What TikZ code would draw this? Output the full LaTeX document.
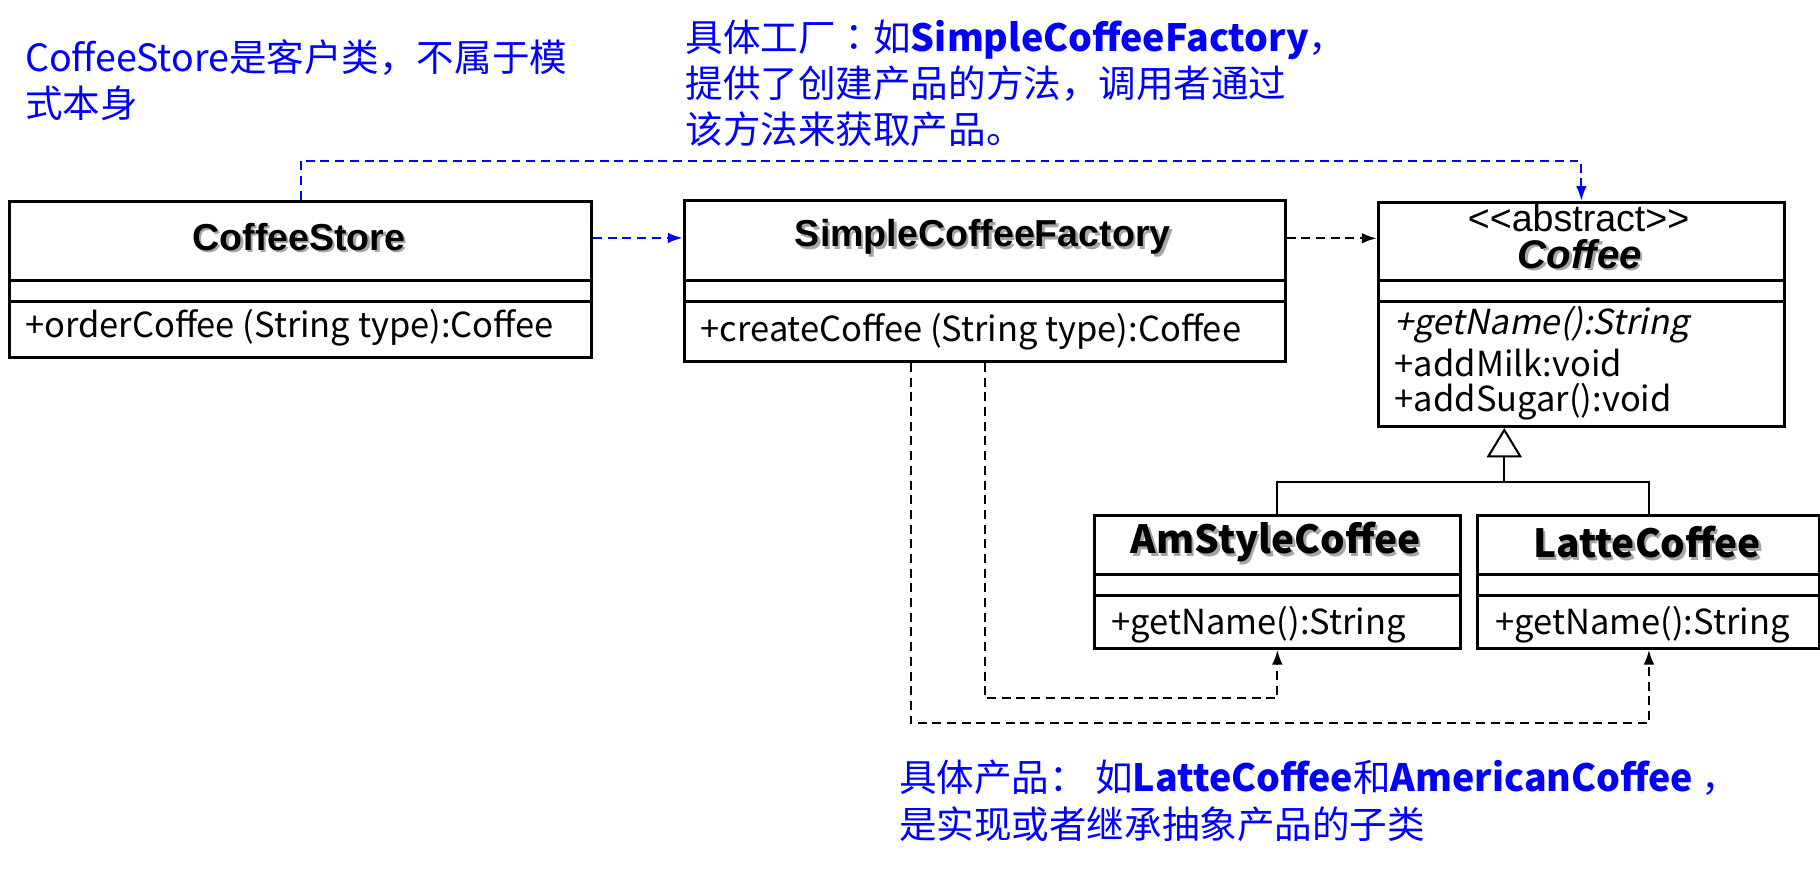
\documentclass[tikz,border=0pt]{standalone}
\usepackage{fontspec}
\setmainfont{Noto Sans CJK SC}
\newfontfamily\arial{Liberation Sans}
\newfontfamily\penche{Noto Sans CJK SC}[FakeSlant=0.2]
\newfontfamily\tcfont{Noto Sans CJK TC}
\usetikzlibrary{arrows.meta}
\newcommand\ombre[1]{\makebox[0pt][l]{\raisebox{-0.6pt}{\hspace{0.6pt}\textcolor{black!35}{#1}}}#1}

\begin{document}
\begin{tikzpicture}[x=0.01cm,y=-0.01cm]
\tikzstyle{lien}=[dash pattern=on 2.2pt off 1.4pt,line width=0.5pt,-{Latex[length=3.6pt,width=2.6pt]}]
\tikzstyle{lienbleu}=[lien,blue]
\tikzset{classe/.style={draw,line width=0.75pt,anchor=north west,inner sep=0pt},
titre/.style={inner sep=0pt,font=\arial\bfseries\fontsize{9.2}{11}\selectfont},
methode/.style={anchor=west,inner sep=0pt,font=\fontsize{8.45}{10}\selectfont},
note/.style={anchor=west,inner sep=0pt,align=left,blue,font=\fontsize{9.2}{11.3}\selectfont}}
\useasboundingbox (0,0) rectangle (1568,748.6);

% les classes
\node[classe,minimum width=5.01cm,minimum height=1.345cm] (CS) at (7,172) {};
\node[classe,minimum width=5.175cm,minimum height=1.385cm] (FA) at (588,171.5) {};
\node[classe,minimum width=3.5cm,minimum height=1.93cm] (CO) at (1186,173) {};
\node[classe,minimum width=3.15cm,minimum height=1.14cm] (AM) at (941.6,443.2) {};
\node[classe,minimum width=2.945cm,minimum height=1.14cm] (LA) at (1272,443.2) {};
\foreach \c/\a/\b in {CS/241.5/259.5,FA/241.8/259.5,CO/241.8/260,AM/494.6/513,LA/494.6/513}
  \draw[line width=0.75pt] (\c.west |- 0,\a) -- (\c.east |- 0,\a) (\c.west |- 0,\b) -- (\c.east |- 0,\b);

\node[titre] (CSt) at (257.5,205) {\ombre{CoffeeStore}};
\node[titre] (FAt) at (846.7,205.3) {\ombre{SimpleCoffeeFactory}};
\node[inner sep=0pt,font=\arial\fontsize{9.2}{11}\selectfont] (COs) at (1360,188) {<\kern0pt<abstract>\kern0pt>};
\node[titre,font=\arial\bfseries\itshape\fontsize{9.8}{11}\selectfont] (COt) at (1361,219.7) {\ombre{Coffee}};
\node[titre,font=\bfseries\fontsize{9.5}{11}\selectfont] (AMt) at (1099,468.2) {\ombre{AmStyleCoffee}};
\node[titre,font=\bfseries\fontsize{9.5}{11}\selectfont] (LAt) at (1419,468.2) {\ombre{LatteCoffee}};

\node[methode] (CSm) at (21,282) {+orderCoffee (String type):Coffee};
\node[methode] (FAm) at (603,286) {+createCoffee (String type):Coffee};
\node[methode] (COm1) at (1201,280) {\penche +getName():String};
\node[methode] (COm2) at (1201,313) {+addMilk:void};
\node[methode] (COm3) at (1201,346) {+addSugar():void};
\node[methode] (AMm) at (957,538.5) {+getName():String};
\node[methode] (LAm) at (1287.6,538.5) {+getName():String};

% les remarques
\node[note] (N1) at (21,69) {CoffeeStore是客户类，不属于模\\式本身};
\node[note] (N2) at (590,71.8) {具体工厂{\tcfont ：}如\textbf{SimpleCoffeeFactory}，\\提供了创建产品的方法，调用者通过\\该方法来获取产品。};
\node[note] (N3) at (774,690) {具体产品： 如\textbf{LatteCoffee}和\textbf{AmericanCoffee} ，\\是实现或者继承抽象产品的子类};

% les liens
\draw[lienbleu] (CS.east |- CSt) -- (FA.west |- CSt);
\draw[lienbleu] (CS.north) -- ++(0,-33.5) -| (CO.north);
\draw[lien] (FA.east |- FAt) -- (CO.west |- FAt);
\draw[lien] (FA.south) -- ++(0,289) -| (AM.south);
\draw[lien] ([xshift=-0.637cm]FA.south) -- ++(0,310.5) -| (LA.south);

\coordinate (J) at (1296,415.5);
\draw[line width=0.5pt] (AM.north) |- (J) -| (LA.north);
\draw[line width=0.5pt,-{Triangle[open,length=7.2pt,width=8.6pt,fill=white]}] (J) -- (J |- CO.south);

\end{tikzpicture}
\end{document}
